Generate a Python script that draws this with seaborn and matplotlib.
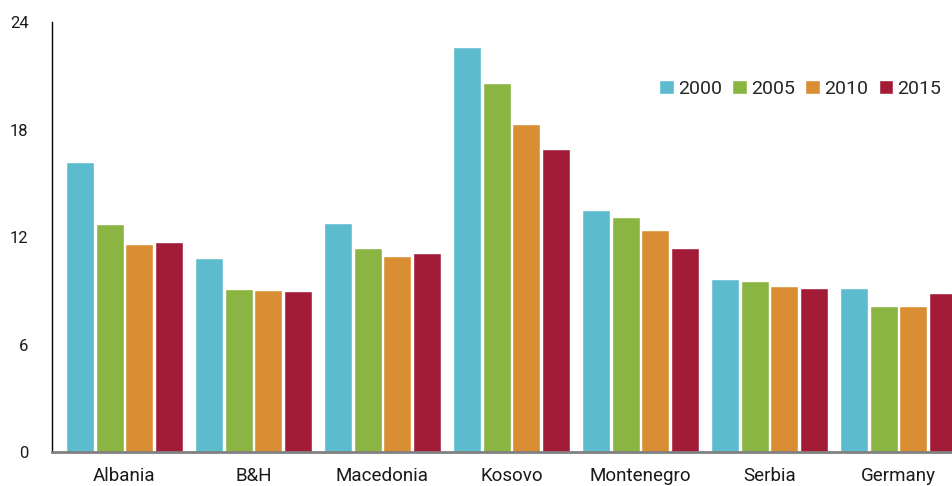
import numpy as np
import pandas as pd
import seaborn as sb
import matplotlib.pyplot as plt

countries = ['Albania', 'B&H', 'Macedonia', 'Kosovo', 'Montenegro', 'Serbia', 'Germany']
years = ['2000', '2005', '2010', '2015']
v2000 = [16.2, 10.85, 12.8, 22.6, 13.5, 9.68, 9.17]
v2005 = [12.7, 9.1, 11.4, 20.6, 13.1, 9.57, 8.17]
v2010 = [11.6, 9.06, 10.96, 18.3, 12.4, 9.29, 8.17]
v2015 = [11.7, 9.0, 11.13, 16.9, 11.36, 9.17, 8.9]
yticks = [0, 6, 12, 18, 24]
colors = ['#5CBCCE', '#8BB542', '#DA8E34', '#A21C37']

rows = []
for y, vals in zip(years, [v2000, v2005, v2010, v2015]):
    for c, v in zip(countries, vals):
        rows.append({'country': c, 'year': y, 'value': v})
df = pd.DataFrame(rows)

sb.set_style('white')
plt.rcParams['font.family'] = ['Roboto', 'DejaVu Sans']

fig = plt.figure(figsize=(9.52, 4.86), dpi=100)
ax = fig.add_axes([52 / 952, 34 / 486, 1 - 52 / 952, 430 / 486])
sb.barplot(data=df, x='country', y='value', hue='year', palette=colors,
           width=0.922, gap=0.06, saturation=1, ax=ax, legend=True)

ax.set_xlim(-0.562, 6.415)
ax.set_ylim(0, 24)
ax.set_yticks(yticks)
ax.set_xlabel('')
ax.set_ylabel('')
ax.tick_params(axis='both', length=0, colors='#1a1a1a')
ax.tick_params(axis='x', pad=11, labelsize=13.5)
ax.tick_params(axis='y', pad=17, labelsize=12)
for lab in ax.get_yticklabels():
    lab.set_horizontalalignment('right')

for s in ['top', 'right']:
    ax.spines[s].set_visible(False)
ax.spines['left'].set_color('black')
ax.spines['left'].set_linewidth(1)
ax.spines['bottom'].set_color('#808080')
ax.spines['bottom'].set_linewidth(2)

ax.legend(title=None, loc='center right', bbox_to_anchor=(0.992, 0.844), ncol=4,
          frameon=False, fontsize=14, handlelength=0.75, handleheight=0.75,
          handletextpad=0.2, columnspacing=0.55, borderaxespad=0, borderpad=0.2)

fig.savefig('out.png', dpi=100)
